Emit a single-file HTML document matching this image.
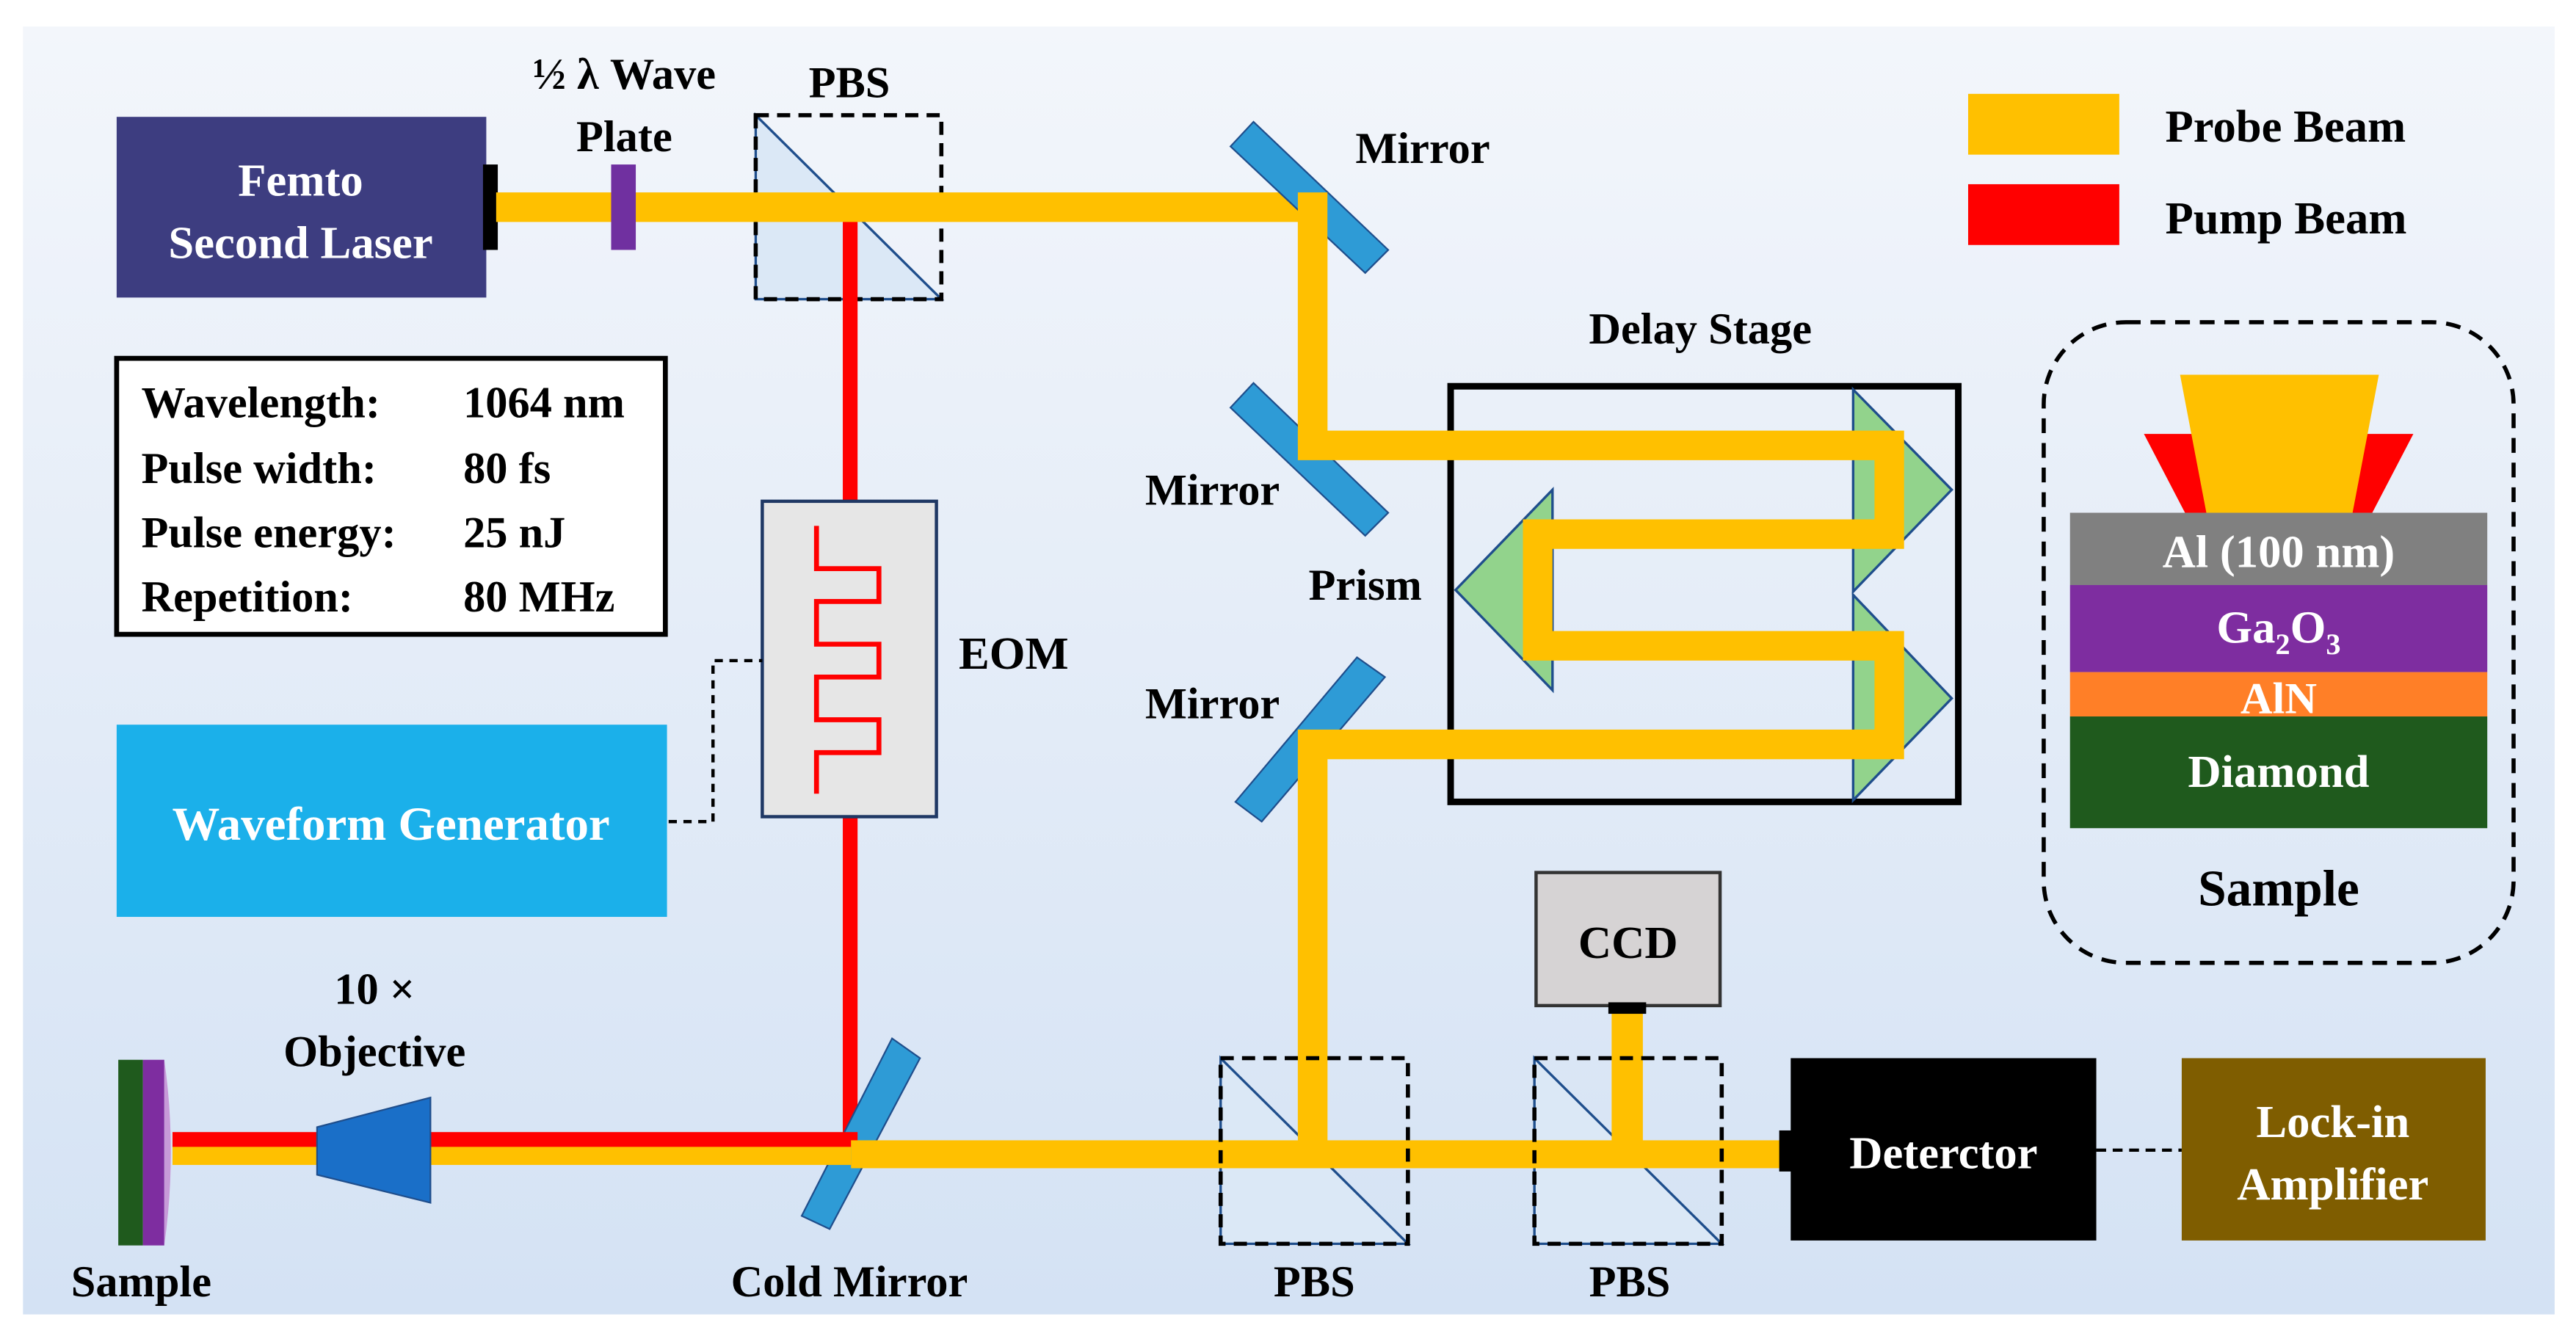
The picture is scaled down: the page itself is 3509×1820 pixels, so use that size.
<!DOCTYPE html>
<html><head><meta charset="utf-8"><style>
html,body{margin:0;padding:0;background:#fff}
svg{display:block}
text{font-family:"Liberation Serif","DejaVu Serif",serif;font-weight:bold}
</style></head><body>
<svg width="3509" height="1820" viewBox="0 0 1568 813" xmlns="http://www.w3.org/2000/svg" font-family="Liberation Serif, DejaVu Serif, serif" font-weight="bold">
<defs>
<linearGradient id="bg" x1="0" y1="0" x2="0" y2="1">
<stop offset="0" stop-color="#f3f6fb"/><stop offset="1" stop-color="#d4e2f4"/>
</linearGradient>
</defs>
<rect x="0" y="0" width="1568" height="813" fill="#fff"/>
<rect x="14" y="16" width="1541" height="784" fill="url(#bg)"/>

<!-- Laser -->
<rect x="71" y="71" width="225" height="110" fill="#3d3d80"/>
<text x="183" y="119" font-size="28" fill="#fff" text-anchor="middle">Femto</text>
<text x="183" y="157" font-size="28" fill="#fff" text-anchor="middle">Second Laser</text>
<rect x="294" y="100" width="9" height="52" fill="#000"/>

<!-- PBS1 -->
<polygon points="460,70 460,182 573,182" fill="#dbe8f6" stroke="#1f4e8c" stroke-width="1.5"/>
<rect x="460" y="70" width="113" height="112" fill="none" stroke="#000" stroke-width="2.5" stroke-dasharray="8,5"/>
<text x="517" y="59" font-size="27" text-anchor="middle">PBS</text>

<!-- pump red vertical -->
<rect x="513" y="132" width="9" height="565" fill="#ff0000"/>

<!-- probe path upper -->
<path d="M302,126 L799,126 L799,271" fill="none" stroke="#ffc000" stroke-width="18"/>
<rect x="372" y="100" width="15" height="52" fill="#7030a0"/>
<text x="380" y="54" font-size="27" text-anchor="middle">½ λ Wave</text>
<text x="380" y="92" font-size="27" text-anchor="middle">Plate</text>

<!-- Mirrors -->
<g fill="#2e9bd6" stroke="#1f4e8c" stroke-width="1">
<polygon points="749,89 763,74 845,152 831,166"/>
<polygon points="749,248 763,233 845,312 831,326"/>
<polygon points="752,488 768,500 843,412 826,400"/>
<polygon points="488,740 505,748 560,644 543,632"/>
</g>
<path d="M790,126 L808,126 M799,117 L799,271" stroke="#ffc000" stroke-width="18"/>
<text x="866" y="99" font-size="27" text-anchor="middle">Mirror</text>
<text x="738" y="307" font-size="27" text-anchor="middle">Mirror</text>
<text x="738" y="437" font-size="27" text-anchor="middle">Mirror</text>
<text x="831" y="365" font-size="27" text-anchor="middle">Prism</text>

<!-- Delay stage -->
<rect x="883" y="235" width="309" height="253" fill="none" stroke="#000" stroke-width="4"/>
<text x="1035" y="209" font-size="27" text-anchor="middle">Delay Stage</text>
<g fill="#92d38c" stroke="#1f4e8c" stroke-width="1.5">
<polygon points="1128,237 1188,298 1128,360"/>
<polygon points="1128,362 1188,425 1128,487"/>
<polygon points="945,298 886,359 945,420"/>
</g>
<path d="M799,262 L799,271 L1150,271 L1150,325 L936,325 L936,393 L1150,393 L1150,453 L799,453 L799,702" fill="none" stroke="#ffc000" stroke-width="18"/>

<!-- Legend -->
<rect x="1198" y="57" width="92" height="37" fill="#ffc000"/>
<rect x="1198" y="112" width="92" height="37" fill="#ff0000"/>
<text x="1318" y="86" font-size="28">Probe Beam</text>
<text x="1318" y="142" font-size="28">Pump Beam</text>

<!-- Sample inset -->
<rect x="1244" y="196" width="286" height="390" rx="50" fill="none" stroke="#000" stroke-width="2.5" stroke-dasharray="9,6"/>
<polygon points="1305,264 1340,264 1352,312 1330,312" fill="#ff0000"/>
<polygon points="1469,264 1434,264 1422,312 1444,312" fill="#ff0000"/>
<polygon points="1327,228 1448,228 1432,312 1343,312" fill="#ffc000"/>
<rect x="1260" y="312" width="254" height="44" fill="#808080"/>
<rect x="1260" y="356" width="254" height="53" fill="#7e2da0"/>
<rect x="1260" y="409" width="254" height="27" fill="#ff7f27"/>
<rect x="1260" y="436" width="254" height="68" fill="#1f5a1d"/>
<text x="1387" y="345" font-size="28" fill="#fff" text-anchor="middle">Al  (100 nm)</text>
<text x="1387" y="391" font-size="28" fill="#fff" text-anchor="middle">Ga<tspan font-size="18" dy="7">2</tspan><tspan dy="-7">O</tspan><tspan font-size="18" dy="7">3</tspan></text>
<text x="1387" y="434" font-size="27" fill="#fff" text-anchor="middle">AlN</text>
<text x="1387" y="479" font-size="28" fill="#fff" text-anchor="middle">Diamond</text>
<text x="1387" y="551" font-size="31" text-anchor="middle">Sample</text>

<!-- Info box -->
<rect x="71" y="218" width="334" height="168" fill="#fff" stroke="#000" stroke-width="3"/>
<g font-size="27">
<text x="86" y="254">Wavelength:</text><text x="282" y="254">1064 nm</text>
<text x="86" y="294">Pulse width:</text><text x="282" y="294">80 fs</text>
<text x="86" y="333">Pulse energy:</text><text x="282" y="333">25 nJ</text>
<text x="86" y="372">Repetition:</text><text x="282" y="372">80 MHz</text>
</g>

<!-- EOM -->
<rect x="464" y="305" width="106" height="192" fill="#e6e6e6" stroke="#1f3864" stroke-width="2"/>
<path d="M497,320 V346 H535 V366 H497 V392 H535 V412 H497 V438 H535 V458 H497 V483" fill="none" stroke="#ff0000" stroke-width="3"/>
<text x="617" y="407" font-size="28" text-anchor="middle">EOM</text>

<!-- Waveform generator -->
<rect x="71" y="441" width="335" height="117" fill="#1bb0ea"/>
<text x="238" y="511" font-size="29" fill="#fff" text-anchor="middle">Waveform Generator</text>
<path d="M407,500 L434,500 L434,402 L464,402" fill="none" stroke="#000" stroke-width="2" stroke-dasharray="5,4"/>

<!-- Bottom beams -->
<rect x="105" y="697" width="413" height="12" fill="#ffc000"/>
<rect x="105" y="689" width="417" height="9" fill="#ff0000"/>
<polygon points="193,686 262,668 262,732 193,715" fill="#1a6fc8" stroke="#1f4e8c" stroke-width="1"/>
<text x="228" y="611" font-size="27" text-anchor="middle">10 ×</text>
<text x="228" y="649" font-size="27" text-anchor="middle">Objective</text>
<rect x="72" y="645" width="15" height="113" fill="#1f5a1d"/>
<rect x="87" y="645" width="13" height="113" fill="#7e2da0"/>
<path d="M100,645 Q108,701 100,758 Z" fill="#c79ad8"/>
<text x="86" y="789" font-size="27" text-anchor="middle">Sample</text>
<text x="517" y="789" font-size="27" text-anchor="middle">Cold Mirror</text>

<!-- PBS2, PBS3 -->
<polygon points="743,644 743,757 857,757" fill="#dbe8f6" stroke="#1f4e8c" stroke-width="1.5"/>
<polygon points="934,644 934,757 1048,757" fill="#dbe8f6" stroke="#1f4e8c" stroke-width="1.5"/>
<rect x="518" y="694" width="571" height="17" fill="#ffc000"/>
<rect x="790" y="455" width="18" height="250" fill="#ffc000"/>
<rect x="981" y="615" width="19" height="85" fill="#ffc000"/>
<rect x="743" y="644" width="114" height="113" fill="none" stroke="#000" stroke-width="2.5" stroke-dasharray="8,5"/>
<rect x="934" y="644" width="114" height="113" fill="none" stroke="#000" stroke-width="2.5" stroke-dasharray="8,5"/>
<text x="800" y="789" font-size="27" text-anchor="middle">PBS</text>
<text x="992" y="789" font-size="27" text-anchor="middle">PBS</text>

<!-- CCD -->
<rect x="935" y="531" width="112" height="81" fill="#d6d3d4" stroke="#333" stroke-width="2"/>
<rect x="979" y="610" width="23" height="7" fill="#000"/>
<text x="991" y="583" font-size="28" text-anchor="middle">CCD</text>

<!-- Detector -->
<rect x="1083" y="688" width="9" height="25" fill="#000"/>
<rect x="1090" y="644" width="186" height="111" fill="#000"/>
<text x="1183" y="711" font-size="28" fill="#fff" text-anchor="middle">Deterctor</text>
<path d="M1276,700 L1328,700" stroke="#000" stroke-width="2" stroke-dasharray="6,4"/>
<rect x="1328" y="644" width="185" height="111" fill="#7f5d00"/>
<text x="1420" y="692" font-size="28" fill="#fff" text-anchor="middle">Lock-in</text>
<text x="1420" y="730" font-size="28" fill="#fff" text-anchor="middle">Amplifier</text>
</svg>
</body></html>
